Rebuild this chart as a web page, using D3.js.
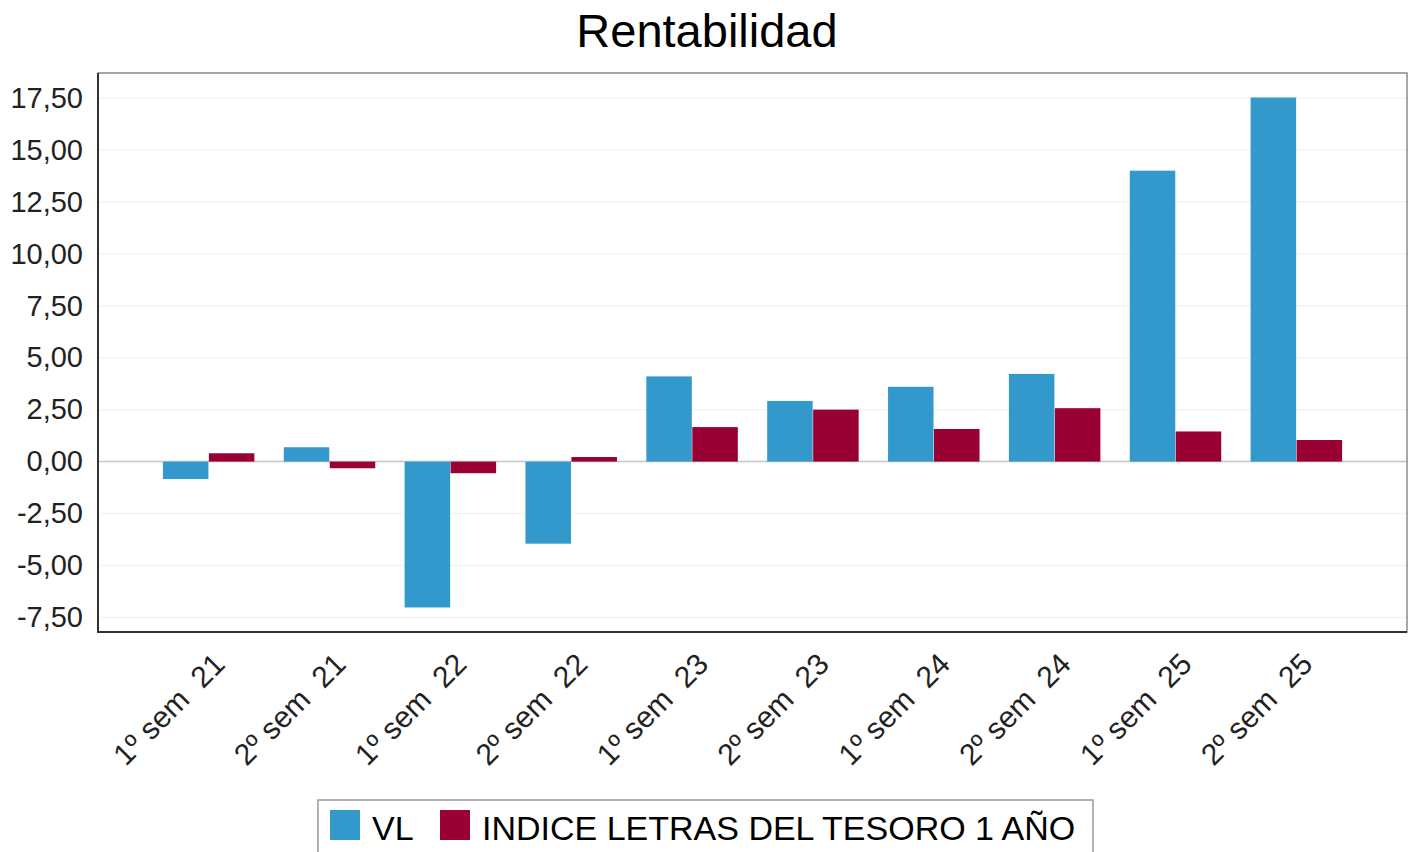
<!DOCTYPE html>
<html>
<head>
<meta charset="utf-8">
<script src="https://cdn.jsdelivr.net/npm/d3@7"></script>
<style>
  body { margin: 0; background: #fff; }
  text { font-family: "Liberation Sans", Arial, sans-serif; }
</style>
</head>
<body>
<div class="chart"></div>
<script>
var categories = ["1º sem  21", "2º sem  21", "1º sem  22", "2º sem  22", "1º sem  23",
                  "2º sem  23", "1º sem  24", "2º sem  24", "1º sem  25", "2º sem  25"];
var seriesNames = ["VL", "INDICE LETRAS DEL TESORO 1 AÑO"];
var vl = [-0.84, 0.69, -7.02, -3.95, 4.10, 2.92, 3.60, 4.22, 14.00, 17.52];
var letras = [0.40, -0.32, -0.56, 0.22, 1.66, 2.50, 1.57, 2.57, 1.45, 1.04];
var yTicks = [-7.5, -5, -2.5, 0, 2.5, 5, 7.5, 10, 12.5, 15, 17.5];
var colors = ["#3399cc", "#990033"];

function drawChart() {
    var svg = d3.select(".chart").append("svg")
        .attr("width", 1416).attr("height", 852);

    var left = 98, right = 1407, top = 73, bottom = 632;

    var rows = categories.map(function (c, i) {
        return { cat: c, values: [vl[i], letras[i]] };
    });

    var x0 = d3.scaleBand().domain(categories).range([left, right])
        .paddingInner(0.243).paddingOuter(0.537);
    var x1 = d3.scaleBand().domain([0, 1]).range([0, x0.bandwidth()]).paddingInner(0.01);
    var y = d3.scaleLinear().domain([-8.2, 18.7]).range([bottom, top]);

    var fmt = d3.formatLocale({ decimal: ",", thousands: ".", grouping: [3], currency: ["", "€"], minus: "-" }).format(".2f");

    // title
    svg.append("text")
        .attr("x", 707).attr("y", 47)
        .attr("text-anchor", "middle")
        .style("font-size", "47px")
        .attr("fill", "#000")
        .text("Rentabilidad");

    // grid
    svg.append("g").selectAll("line").data(yTicks).enter().append("line")
        .attr("x1", left).attr("x2", right)
        .attr("y1", function (d) { return y(d); })
        .attr("y2", function (d) { return y(d); })
        .attr("stroke", "#f3f3f3").attr("stroke-width", 1.5);

    // y axis labels
    var yAxis = d3.axisLeft(y).tickValues(yTicks).tickSize(0).tickPadding(15)
        .tickFormat(function (d) { return fmt(d).replace("-0,00", "0,00"); });
    var yg = svg.append("g").attr("transform", "translate(" + left + ",0)").call(yAxis);
    yg.select(".domain").remove();
    yg.selectAll("text").style("font-size", "29px").attr("fill", "#222")
        .style("font-family", "'Liberation Sans', Arial, sans-serif");

    // zero line
    svg.append("line")
        .attr("x1", left).attr("x2", right)
        .attr("y1", y(0)).attr("y2", y(0))
        .attr("stroke", "#c8c8c8").attr("stroke-width", 1.5);

    // bars
    var groups = svg.append("g").selectAll("g").data(rows).enter().append("g")
        .attr("transform", function (d) { return "translate(" + x0(d.cat) + ",0)"; });
    groups.selectAll("rect").data(function (d) { return d.values; }).enter().append("rect")
        .attr("x", function (d, i) { return x1(i); })
        .attr("width", x1.bandwidth())
        .attr("y", function (d) { return y(Math.max(0, d)); })
        .attr("height", function (d) { return Math.abs(y(d) - y(0)); })
        .attr("fill", function (d, i) { return colors[i]; });

    // frame
    svg.append("rect")
        .attr("x", left).attr("y", top)
        .attr("width", right - left).attr("height", bottom - top)
        .attr("fill", "none").attr("stroke", "#8a8a8a").attr("stroke-width", 1.5);
    svg.append("path")
        .attr("d", "M" + left + "," + top + "V" + bottom + "H" + right)
        .attr("fill", "none").attr("stroke", "#333").attr("stroke-width", 2);

    // x labels (keep the double space)
    svg.append("g").selectAll("text").data(categories).enter().append("text")
        .attr("transform", function (d) {
            return "translate(" + (x0(d) + x0.bandwidth() / 2 + 18) + ",666) rotate(-45)";
        })
        .attr("text-anchor", "end")
        .style("font-size", "30px")
        .style("white-space", "pre")
        .attr("fill", "#222")
        .text(function (d) { return d; });

    // legend
    var lg = svg.append("g");
    lg.append("rect")
        .attr("x", 318).attr("y", 800).attr("width", 775).attr("height", 60)
        .attr("fill", "#fff").attr("stroke", "#999").attr("stroke-width", 1.5);
    var itemX = [330, 440];
    seriesNames.forEach(function (name, i) {
        lg.append("rect")
            .attr("x", itemX[i]).attr("y", 810).attr("width", 30).attr("height", 30)
            .attr("fill", colors[i]);
        lg.append("text")
            .attr("x", itemX[i] + 42).attr("y", 840)
            .style("font-size", "34px")
            .attr("fill", "#000")
            .text(name);
    });
}
drawChart();
</script>
</body>
</html>
